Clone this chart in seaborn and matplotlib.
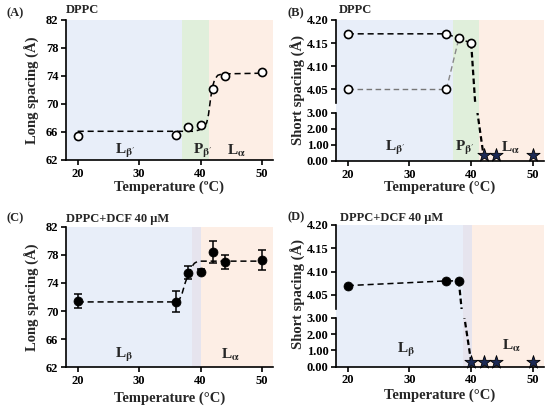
import numpy as np
import pandas as pd
import matplotlib
matplotlib.use("Agg")
import matplotlib.pyplot as plt
import seaborn as sns
from matplotlib.ticker import FormatStrFormatter

# ---------------- data ----------------
temps_a = [20, 36, 38, 40, 42, 44, 50]
long_a = [65.4, 65.6, 66.7, 67.0, 72.1, 74.0, 74.6]
fit_a_x = [20, 39, 39.8, 40.5, 41.0, 41.3, 41.6, 41.9, 42.3, 42.8, 43.5, 50]
fit_a_y = [66.1, 66.1, 66.3, 66.7, 67.3, 68.5, 70.5, 72.3, 73.5, 74.1, 74.3, 74.4]

temps_b_gel = [20, 36, 38, 40]
short_b_top = [4.17, 4.17, 4.16, 4.15]
temps_b_low = [20, 36]
short_b_low = [4.05, 4.05]
gray_link_x = [36, 38]
gray_link_y = [4.05, 4.16]
temps_b_star = [42, 44, 50]
short_b_star = [0.35, 0.35, 0.35]
drop_b_up_x = [40, 40.85]
drop_b_up_y = [4.15, 3.98]
drop_b_lo_x = [40.95, 42]
drop_b_lo_y = [3.2, 0.35]

temps_c = [20, 36, 38, 40, 42, 44, 50]
long_c = [71.45, 71.3, 75.45, 75.6, 78.4, 77.0, 77.3]
err_c = [1.0, 1.5, 0.9, 0.35, 1.6, 0.95, 1.45]
fit_c_x = [20, 36, 36.5, 37, 37.5, 38, 38.5, 39, 39.5, 40, 50]
fit_c_y = [71.3, 71.3, 71.5, 72.5, 74.0, 75.2, 76.2, 76.8, 77.05, 77.1, 77.1]

temps_d = [20, 36, 38]
short_d = [4.07, 4.08, 4.08]
temps_d_star = [40, 42, 44, 50]
short_d_star = [0.28, 0.3, 0.3, 0.3]
drop_d_up_x = [38, 38.75]
drop_d_up_y = [4.08, 3.98]
drop_d_lo_x = [38.8, 40]
drop_d_lo_y = [3.3, 0.28]

# phase regions (start, end, colour)
phases_dppc = [(18, 37, "#e8eef9"), (37, 41.3, "#e0efdb"), (41.3, 52, "#fdeee5")]
phases_dcf = [(18, 38.6, "#e8eef9"), (38.6, 40.1, "#e6e4ee"), (40.1, 52, "#fdeee5")]

# ---------------- style ----------------
sns.set_theme(style="ticks")
plt.rcParams["font.family"] = ["Liberation Serif", "DejaVu Serif"]
plt.rcParams["font.weight"] = "bold"
plt.rcParams["axes.labelweight"] = "bold"
plt.rcParams["mathtext.fontset"] = "stix"
plt.rcParams["mathtext.default"] = "bf"
plt.rcParams["axes.linewidth"] = 1.2
plt.rcParams["xtick.major.width"] = 1.2
plt.rcParams["ytick.major.width"] = 1.2
plt.rcParams["xtick.major.size"] = 3.5
plt.rcParams["ytick.major.size"] = 3.5
plt.rcParams["xtick.labelsize"] = 9
plt.rcParams["ytick.labelsize"] = 9
plt.rcParams["xtick.major.pad"] = 2
plt.rcParams["ytick.major.pad"] = 2
plt.rcParams["xtick.color"] = "black"
plt.rcParams["ytick.color"] = "black"
plt.rcParams["axes.edgecolor"] = "black"

W, H = 550, 408
fig = plt.figure(figsize=(W / 100, H / 100), dpi=100)


def fr(l, t, r, b):
    return [l / W, 1 - b / H, (r - l) / W, (b - t) / H]


XLIM = (18.1, 51.8)
XTICKS = [20, 30, 40, 50]
LAB = 10.5
PH = 11


def shade(ax, phases):
    for s, e, c in phases:
        ax.axvspan(s, e, color=c, lw=0, zorder=0)
    ax.set_xlim(*XLIM)


def style_x(ax, label, top_px, ax_bottom_px, ax_h_px):
    ax.set_xlim(*XLIM)
    ax.set_xticks(XTICKS)
    ax.set_xlabel(label, fontsize=LAB, fontweight="bold")
    ax.xaxis.set_label_coords(0.5, -(top_px - ax_bottom_px) / ax_h_px)
    sns.despine(ax=ax)


def bg_axes(rect, phases):
    bg = fig.add_axes(rect, zorder=0)
    shade(bg, phases)
    bg.set_ylim(0, 1)
    bg.axis("off")
    return bg


# ---------------- Panel A ----------------
axA = fig.add_axes(fr(66, 20, 273, 160))
shade(axA, phases_dppc)
sns.lineplot(x=fit_a_x, y=fit_a_y, ax=axA, color="black", lw=1.1,
             linestyle=(0, (4, 2.5)), zorder=2)
dfA = pd.DataFrame({"T": temps_a, "L": long_a})
sns.scatterplot(data=dfA, x="T", y="L", ax=axA, marker="o", s=34,
                facecolor="white", edgecolor="black", linewidth=1.2, zorder=3)
axA.set_ylim(62, 82)
axA.set_yticks([62, 66, 70, 74, 78, 82])
axA.set_ylabel("Long spacing (Å)", fontsize=LAB, fontweight="bold")
style_x(axA, "Temperature (ºC)", 181, 160, 140)
axA.text(27.8, 63.3, r"L$_{\beta'}$", fontsize=PH, ha="center", va="center")
axA.text(40.4, 63.3, r"P$_{\beta'}$", fontsize=PH, ha="center", va="center")
axA.text(45.9, 63.3, r"L$_{\alpha}$", fontsize=PH, ha="center", va="center")

# ---------------- Panel B ----------------
bg_axes(fr(336, 20, 544, 161), phases_dppc)
axBu = fig.add_axes(fr(336, 20, 544, 103), zorder=1)
axBl = fig.add_axes(fr(336, 113, 544, 161), zorder=1)
for a in (axBu, axBl):
    a.patch.set_alpha(0)
sns.lineplot(x=temps_b_gel, y=short_b_top, ax=axBu, color="black", lw=1.1,
             linestyle=(0, (4, 2.5)), zorder=2)
sns.lineplot(x=temps_b_low, y=short_b_low, ax=axBu, color="#777777", lw=1.0,
             linestyle=(0, (4, 2.5)), zorder=2)
sns.lineplot(x=gray_link_x, y=gray_link_y, ax=axBu, color="#888888", lw=1.0,
             linestyle=(0, (4, 2.5)), zorder=2)
sns.lineplot(x=drop_b_up_x, y=drop_b_up_y, ax=axBu, color="black", lw=1.6,
             linestyle=(0, (2.5, 1.5)), zorder=2)
sns.scatterplot(x=temps_b_gel, y=short_b_top, ax=axBu, marker="o", s=34,
                facecolor="white", edgecolor="black", linewidth=1.2, zorder=3)
sns.scatterplot(x=temps_b_low, y=short_b_low, ax=axBu, marker="o", s=34,
                facecolor="white", edgecolor="black", linewidth=1.2, zorder=3)
axBu.set_ylim(4.02, 4.20)
axBu.set_yticks([4.05, 4.10, 4.15, 4.20])
axBu.yaxis.set_major_formatter(FormatStrFormatter("%.2f"))
axBu.set_xlim(*XLIM)
axBu.set_xticks([])
axBu.set_ylabel("")
axBu.set_xlabel("")
sns.despine(ax=axBu, bottom=True)

sns.lineplot(x=drop_b_lo_x, y=drop_b_lo_y, ax=axBl, color="black", lw=1.6,
             linestyle=(0, (2.5, 1.5)), zorder=2)
sns.scatterplot(x=temps_b_star, y=short_b_star, ax=axBl, marker="*", s=100,
                color="#1c2a55", edgecolor="black", linewidth=0.6, zorder=3,
                clip_on=False)
axBl.set_ylim(0, 3.0)
axBl.set_yticks([0, 1, 2, 3])
axBl.yaxis.set_major_formatter(FormatStrFormatter("%.2f"))
axBl.set_ylabel("")
style_x(axBl, "Temperature (°C)", 181, 161, 48)
axBl.text(27.7, 0.8, r"L$_{\beta'}$", fontsize=PH, ha="center", va="center")
axBl.text(39.0, 0.8, r"P$_{\beta'}$", fontsize=PH, ha="center", va="center")
axBl.text(46.3, 0.8, r"L$_{\alpha}$", fontsize=PH, ha="center", va="center")
fig.text(298 / W, 1 - 90 / H, "Short spacing (Å)", rotation=90, fontsize=LAB,
         fontweight="bold", ha="center", va="center")

# ---------------- Panel C ----------------
axC = fig.add_axes(fr(66, 226.7, 273, 367.3))
shade(axC, phases_dcf)
sns.lineplot(x=fit_c_x, y=fit_c_y, ax=axC, color="black", lw=1.1,
             linestyle=(0, (4, 2.5)), zorder=2)
axC.errorbar(temps_c, long_c, yerr=err_c, fmt="none", ecolor="black",
             elinewidth=1.1, capsize=2.8, capthick=1.1, zorder=3)
sns.scatterplot(x=temps_c, y=long_c, ax=axC, marker="o", s=42,
                color="black", edgecolor="black", zorder=4)
axC.set_ylim(62, 82)
axC.set_yticks([62, 66, 70, 74, 78, 82])
axC.set_ylabel("Long spacing (Å)", fontsize=LAB, fontweight="bold")
style_x(axC, "Temperature (°C)", 392, 367.3, 140.6)
axC.text(27.5, 63.7, r"L$_{\beta}$", fontsize=PH, ha="center", va="center")
axC.text(44.8, 63.7, r"L$_{\alpha}$", fontsize=PH, ha="center", va="center")

# ---------------- Panel D ----------------
bg_axes(fr(336, 224.7, 544, 366.7), phases_dcf)
axDu = fig.add_axes(fr(336, 224.7, 544, 309), zorder=1)
axDl = fig.add_axes(fr(336, 318, 544, 366.7), zorder=1)
for a in (axDu, axDl):
    a.patch.set_alpha(0)
sns.lineplot(x=temps_d, y=short_d, ax=axDu, color="black", lw=1.1,
             linestyle=(0, (4, 2.5)), zorder=2)
sns.lineplot(x=drop_d_up_x, y=drop_d_up_y, ax=axDu, color="black", lw=1.6,
             linestyle=(0, (2.5, 1.5)), zorder=2)
sns.scatterplot(x=temps_d, y=short_d, ax=axDu, marker="o", s=42,
                color="black", edgecolor="black", zorder=3)
axDu.set_ylim(4.02, 4.20)
axDu.set_yticks([4.05, 4.10, 4.15, 4.20])
axDu.yaxis.set_major_formatter(FormatStrFormatter("%.2f"))
axDu.set_xlim(*XLIM)
axDu.set_xticks([])
axDu.set_ylabel("")
axDu.set_xlabel("")
sns.despine(ax=axDu, bottom=True)

sns.lineplot(x=drop_d_lo_x, y=drop_d_lo_y, ax=axDl, color="black", lw=1.6,
             linestyle=(0, (2.5, 1.5)), zorder=2)
sns.scatterplot(x=temps_d_star, y=short_d_star, ax=axDl, marker="*", s=100,
                color="#1c2a55", edgecolor="black", linewidth=0.6, zorder=3,
                clip_on=False)
axDl.set_ylim(0, 3.0)
axDl.set_yticks([0, 1, 2, 3])
axDl.yaxis.set_major_formatter(FormatStrFormatter("%.2f"))
axDl.set_ylabel("")
style_x(axDl, "Temperature (°C)", 389, 366.7, 48.7)
axDl.text(29.5, 1.0, r"L$_{\beta}$", fontsize=PH, ha="center", va="center")
axDl.text(46.6, 1.3, r"L$_{\alpha}$", fontsize=PH, ha="center", va="center")
fig.text(298 / W, 1 - 294 / H, "Short spacing (Å)", rotation=90, fontsize=LAB,
         fontweight="bold", ha="center", va="center")

# ---------------- panel letters / titles ----------------
FS_T = 9
fig.text(6 / W, 1 - 13 / H, "(A)", fontsize=FS_T, fontweight="bold", va="center")
fig.text(66 / W, 1 - 10 / H, "DPPC", fontsize=FS_T, fontweight="bold", va="center")
fig.text(287 / W, 1 - 13 / H, "(B)", fontsize=FS_T, fontweight="bold", va="center")
fig.text(339 / W, 1 - 10 / H, "DPPC", fontsize=FS_T, fontweight="bold", va="center")
fig.text(6 / W, 1 - 218 / H, "(C)", fontsize=FS_T, fontweight="bold", va="center")
fig.text(66 / W, 1 - 219 / H, "DPPC+DCF 40 μM", fontsize=FS_T, fontweight="bold", va="center")
fig.text(287 / W, 1 - 217 / H, "(D)", fontsize=FS_T, fontweight="bold", va="center")
fig.text(340 / W, 1 - 218 / H, "DPPC+DCF 40 μM", fontsize=FS_T, fontweight="bold", va="center")

fig.savefig("out.png", dpi=100)
